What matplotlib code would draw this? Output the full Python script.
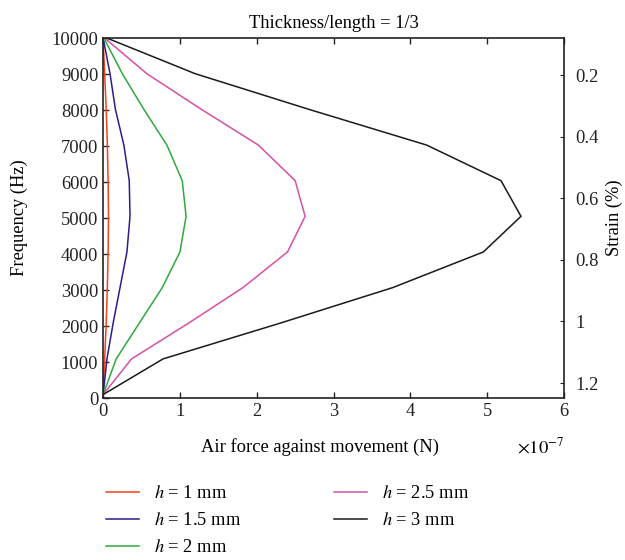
import matplotlib
matplotlib.use("Agg")
import matplotlib.pyplot as plt

plt.rcParams['font.family'] = ['Liberation Serif', 'DejaVu Serif']
plt.rcParams['mathtext.fontset'] = 'stix'

# frequency points (Hz)
freq = [100, 1090, 2080, 3070, 4060, 5050, 6040, 7030, 8020, 9010, 10000]

# air force against movement, in units of 1e-7 N
force_h1 = [0, 0.02, 0.04, 0.055, 0.065, 0.07, 0.065, 0.055, 0.04, 0.02, 0]
force_h15 = [0, 0.05, 0.13, 0.22, 0.31, 0.35, 0.34, 0.27, 0.16, 0.09, 0]
force_h2 = [0, 0.17, 0.47, 0.77, 1.0, 1.08, 1.03, 0.83, 0.53, 0.25, 0.01]
force_h25 = [0, 0.37, 1.11, 1.82, 2.40, 2.63, 2.50, 2.02, 1.28, 0.57, 0.02]
force_h3 = [0, 0.78, 2.30, 3.77, 4.95, 5.44, 5.18, 4.21, 2.68, 1.20, 0.05]

labels = [r'$h$ = 1 mm', r'$h$ = 1.5 mm', r'$h$ = 2 mm', r'$h$ = 2.5 mm', r'$h$ = 3 mm']
colors = ['#f0421c', '#2b1d8c', '#2eaa3a', '#d64fa6', '#1a1a1a']

strain_ticks = [0.2, 0.4, 0.6, 0.8, 1.0, 1.2]
strain_labels = ['0.2', '0.4', '0.6', '0.8', '1', '1.2']

FS = 13.3

fig = plt.figure(figsize=(6.25, 5.6), dpi=100)
ax = fig.add_axes([0.165, 0.289, 0.7374, 0.643])

series = [force_h1, force_h15, force_h2, force_h25, force_h3]
lines = []
for s, c, lab in zip(series, colors, labels):
    ln, = ax.plot(s, freq, color=c, lw=1.1, label=lab)
    lines.append(ln)

ax.set_xlim(0, 6)
ax.set_ylim(0, 10000)
ax.set_xticks(range(0, 7))
ax.set_yticks(range(0, 10001, 1000))
ax.tick_params(direction='in', length=4, width=1, labelsize=FS,
               top=True, right=True, colors='#222222')
for sp in ax.spines.values():
    sp.set_linewidth(1.2)
    sp.set_color('#222222')

ax.set_title('Thickness/length = 1/3', fontsize=FS, pad=7)
ax.set_xlabel('Air force against movement (N)', fontsize=FS)
ax.xaxis.set_label_coords(0.47, -0.11)
ax.set_ylabel('Frequency (Hz)', fontsize=FS)
ax.yaxis.set_label_coords(-0.163, 0.5)
ax.text(1.0, -0.135, r'$\times10^{-7}$', transform=ax.transAxes,
        ha='right', va='center', fontsize=FS)

ax2 = ax.twinx()
ax2.set_ylim(1.249, 0.08)
ax2.set_yticks(strain_ticks)
ax2.set_yticklabels(strain_labels)
ax2.tick_params(direction='in', length=3, labelsize=FS, pad=8, colors='#222222')
ax2.set_ylabel('Strain (%)', fontsize=FS)
ax2.yaxis.set_label_coords(1.09, 0.5)
for sp in ax2.spines.values():
    sp.set_visible(False)

fig.legend(lines, labels, loc='upper left', bbox_to_anchor=(0.155, 0.150),
           ncol=2, frameon=False, fontsize=FS, handlelength=1.8,
           handletextpad=0.8, columnspacing=5.0, labelspacing=0.54,
           borderpad=0)

fig.savefig('out.png', dpi=100)
